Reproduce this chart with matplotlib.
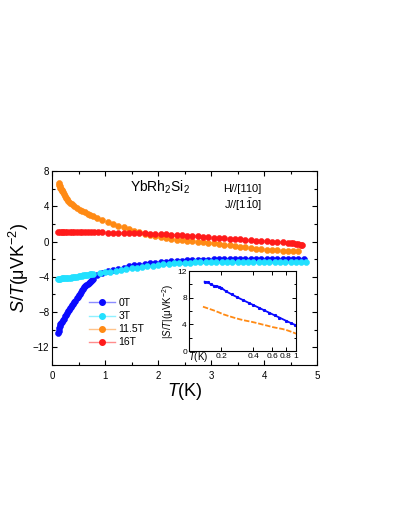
import matplotlib
matplotlib.use('Agg')
import matplotlib.pyplot as plt
from matplotlib.lines import Line2D
from matplotlib.ticker import MultipleLocator, FixedLocator, NullLocator, NullFormatter

plt.rcParams['font.family'] = ['Liberation Sans', 'DejaVu Sans']
plt.rcParams['mathtext.fontset'] = 'custom'
plt.rcParams['mathtext.rm'] = 'Liberation Sans'
plt.rcParams['mathtext.it'] = 'Liberation Sans:italic'

# ---- main panel data: S/T (uV/K^2) vs T (K) ----
t_0T = [0.12, 0.13, 0.14, 0.15, 0.16, 0.17, 0.18, 0.20, 0.22, 0.24, 0.26, 0.28, 0.30, 0.32,
        0.34, 0.36, 0.38, 0.40, 0.42, 0.44, 0.47, 0.49, 0.51, 0.53, 0.55, 0.57, 0.59, 0.61,
        0.63, 0.65, 0.67, 0.69, 0.71, 0.73, 0.75, 0.78,
        0.85, 0.95, 1.05, 1.15, 1.25, 1.35, 1.45, 1.55, 1.65, 1.75, 1.85, 1.95, 2.05, 2.15,
        2.25, 2.35, 2.45, 2.55, 2.65, 2.75, 2.85, 2.95, 3.05, 3.15, 3.25, 3.35, 3.45, 3.55,
        3.65, 3.75, 3.85, 3.95, 4.05, 4.15, 4.25, 4.35, 4.45, 4.55, 4.65, 4.75]
s_0T = [-10.4, -10.1, -9.8, -9.6, -9.4, -9.25, -9.1, -8.95, -8.75, -8.5, -8.3, -8.1, -7.9, -7.75,
        -7.55, -7.4, -7.2, -7.05, -6.85, -6.7, -6.45, -6.25, -6.1, -5.9, -5.7, -5.5, -5.35, -5.2,
        -5.05, -4.9, -4.8, -4.7, -4.6, -4.5, -4.4, -4.3,
        -3.75, -3.55, -3.38, -3.22, -3.08, -2.95, -2.8, -2.7, -2.62, -2.55, -2.48, -2.41, -2.35, -2.29,
        -2.24, -2.2, -2.16, -2.13, -2.1, -2.08, -2.06, -2.04, -2.02, -2.0, -1.99, -1.98, -1.97, -1.96,
        -1.95, -1.95, -1.95, -1.95, -1.95, -1.96, -1.96, -1.97, -1.97, -1.98, -1.99, -2.0]

t_3T = [0.12, 0.14, 0.16, 0.18, 0.20, 0.23, 0.26, 0.29, 0.32, 0.35, 0.38, 0.41, 0.44, 0.47,
        0.50, 0.53, 0.56, 0.59, 0.62, 0.65, 0.68, 0.71, 0.74, 0.77,
        0.9, 1.0, 1.1, 1.2, 1.3, 1.4, 1.5, 1.6, 1.7, 1.8, 1.9, 2.0, 2.1, 2.2, 2.3, 2.4, 2.5,
        2.6, 2.7, 2.8, 2.9, 3.0, 3.1, 3.2, 3.3, 3.4, 3.5, 3.6, 3.7, 3.8, 3.9, 4.0, 4.1, 4.2,
        4.3, 4.4, 4.5, 4.6, 4.7, 4.8]
s_3T = [-4.22, -4.21, -4.2, -4.19, -4.18, -4.16, -4.14, -4.12, -4.1, -4.08, -4.05, -4.02, -4.0, -3.97,
        -3.94, -3.91, -3.88, -3.85, -3.82, -3.79, -3.76, -3.73, -3.7, -3.67,
        -3.6, -3.5, -3.4, -3.3, -3.2, -3.12, -3.05, -2.97, -2.9, -2.83, -2.76, -2.68, -2.58, -2.53,
        -2.49, -2.46, -2.43, -2.4, -2.37, -2.35, -2.33, -2.32, -2.31, -2.3, -2.29, -2.28, -2.28,
        -2.27, -2.27, -2.27, -2.27, -2.27, -2.28, -2.28, -2.29, -2.3, -2.31, -2.32, -2.33, -2.35]

t_11T = [0.13, 0.14, 0.15, 0.16, 0.17, 0.18, 0.19, 0.20, 0.22, 0.24, 0.26, 0.28, 0.31, 0.34,
         0.38, 0.42, 0.47, 0.52, 0.57, 0.62, 0.67, 0.72, 0.78,
         0.85, 0.95, 1.05, 1.15, 1.25, 1.35, 1.45, 1.55, 1.65, 1.75, 1.85, 1.95, 2.05, 2.15,
         2.25, 2.35, 2.45, 2.55, 2.65, 2.75, 2.85, 2.95, 3.05, 3.15, 3.25, 3.35, 3.45, 3.55,
         3.65, 3.75, 3.85, 3.95, 4.05, 4.15, 4.25, 4.35, 4.45, 4.55, 4.65]
s_11T = [6.6, 6.4, 6.25, 6.1, 5.97, 5.85, 5.72, 5.6, 5.35, 5.15, 4.95, 4.8, 4.6, 4.42,
         4.2, 4.0, 3.8, 3.6, 3.45, 3.3, 3.15, 3.0, 2.86,
         2.7, 2.48, 2.22, 2.0, 1.8, 1.6, 1.4, 1.22, 1.05, 0.9, 0.75, 0.62, 0.5, 0.4,
         0.3, 0.22, 0.15, 0.08, 0.02, -0.03, -0.09, -0.15, -0.21, -0.28, -0.35, -0.42, -0.5, -0.58,
         -0.66, -0.74, -0.81, -0.87, -0.92, -0.96, -1.0, -1.03, -1.06, -1.09, -1.12]

t_16T = [0.12, 0.15, 0.18, 0.21, 0.25, 0.29, 0.33, 0.37, 0.42, 0.47, 0.52, 0.57, 0.62, 0.68,
         0.74, 0.80, 0.87, 0.95, 1.05, 1.15, 1.25, 1.35, 1.45, 1.55, 1.65, 1.75, 1.85, 1.95,
         2.05, 2.15, 2.25, 2.35, 2.45, 2.55, 2.65, 2.75, 2.85, 2.95, 3.05, 3.15, 3.25, 3.35,
         3.45, 3.55, 3.65, 3.75, 3.85, 3.95, 4.05, 4.15, 4.25, 4.35, 4.45, 4.5, 4.55, 4.6,
         4.65, 4.7, 4.72]
s_16T = [1.12, 1.12, 1.11, 1.11, 1.1, 1.1, 1.09, 1.09, 1.08, 1.08, 1.07, 1.07, 1.06, 1.06,
         1.05, 1.05, 1.04, 1.03, 1.02, 1.01, 1.0, 0.99, 0.98, 0.96, 0.94, 0.92, 0.89, 0.87,
         0.84, 0.8, 0.77, 0.73, 0.69, 0.65, 0.61, 0.57, 0.53, 0.49, 0.45, 0.41, 0.37, 0.33,
         0.29, 0.25, 0.2, 0.16, 0.11, 0.07, 0.03, -0.02, -0.06, -0.11, -0.16, -0.19, -0.22, -0.27,
         -0.32, -0.37, -0.41]

# ---- inset data: |S/T| vs T on log axis ----
tin_0T = [0.14, 0.15, 0.16, 0.17, 0.18, 0.19, 0.20, 0.22, 0.25, 0.28, 0.32, 0.36, 0.40,
          0.45, 0.50, 0.56, 0.63, 0.70, 0.80, 0.90, 0.97, 1.0]
sin_0T = [10.4, 10.3, 10.0, 9.8, 9.75, 9.65, 9.5, 9.0, 8.5, 8.1, 7.64, 7.24, 6.89,
          6.5, 6.14, 5.76, 5.36, 5.02, 4.57, 4.18, 3.95, 3.85]
tin_11T = [0.135, 0.15, 0.17, 0.19, 0.21, 0.24, 0.27, 0.30, 0.34, 0.38, 0.43, 0.48, 0.54,
           0.60, 0.67, 0.75, 0.83, 0.90, 0.97, 1.0]
sin_11T = [6.65, 6.4, 6.1, 5.8, 5.5, 5.2, 4.95, 4.75, 4.55, 4.4, 4.2, 4.0, 3.8,
           3.6, 3.45, 3.3, 3.1, 2.9, 2.7, 2.6]

labels = ['0T', '3T', '11.5T', '16T']
colors = ['#0a0aff', '#22e0ff', '#ff8a14', '#ff1a1a']
light = ['#8c8cff', '#90f0ff', '#ffc38a', '#ff8c8c']

fig = plt.figure(figsize=(3.98, 5.15), dpi=100)
ax = fig.add_axes([0.1307, 0.2913, 0.6658, 0.3767])

series = [(t_0T, s_0T), (t_3T, s_3T), (t_11T, s_11T), (t_16T, s_16T)]
for (t, s), c in zip(series, colors):
    ax.plot(t, s, 'o', color=c, ms=4.3, mew=0.4, mec=c, ls='none')

ax.set_xlim(0, 5)
ax.set_ylim(-14, 8)
ax.xaxis.set_major_locator(MultipleLocator(1))
ax.xaxis.set_minor_locator(MultipleLocator(0.5))
ax.yaxis.set_major_locator(FixedLocator([-12, -8, -4, 0, 4, 8]))
ax.yaxis.set_minor_locator(MultipleLocator(2))
ax.tick_params(which='both', direction='in', top=True, right=True, labelsize=7, width=0.8)
ax.tick_params(which='major', length=3.5)
ax.tick_params(which='minor', length=2)
ax.tick_params(axis='x', pad=4)
ax.tick_params(axis='y', pad=2)
for sp in ax.spines.values():
    sp.set_linewidth(0.8)
ax.set_xlabel('$T$(K)', fontsize=13, labelpad=0)
ax.set_ylabel('$S/T$(μVK$^{-2}$)', fontsize=13, labelpad=1)

ax.text(0.295, 0.915, 'YbRh$_2$Si$_2$', transform=ax.transAxes, fontsize=10, va='center', ha='left')
ax.text(0.79, 0.908, 'H//[110]', transform=ax.transAxes, fontsize=8, va='center', ha='right')
ax.text(0.79, 0.826, r'J//[1$\bar{1}$0]', transform=ax.transAxes, fontsize=8, va='center', ha='right')

handles = [Line2D([0], [0], color=lc, lw=1.0, marker='o', ms=4, mfc=c, mec=c)
           for c, lc in zip(colors, light)]
ax.legend(handles, labels, loc='upper left', bbox_to_anchor=(0.14, 0.345), frameon=False,
          fontsize=7.5, handlelength=2.5, handletextpad=0.3, labelspacing=0.3,
          borderpad=0, borderaxespad=0)

# ---- inset ----
axi = fig.add_axes([0.4749, 0.3184, 0.2688, 0.1553])
axi.plot(tin_0T, sin_0T, '-', color=colors[0], lw=1.3, marker='s', ms=1.2)
axi.plot(tin_11T, sin_11T, '--', color=colors[2], lw=1.3, dashes=(3, 1))
axi.set_xscale('log')
axi.set_xlim(0.1, 1.0)
axi.set_ylim(0, 12)
axi.xaxis.set_major_locator(FixedLocator([0.2, 0.4, 0.6, 0.8, 1.0]))
axi.xaxis.set_minor_locator(NullLocator())
axi.xaxis.set_minor_formatter(NullFormatter())
axi.set_xticklabels(['0.2', '0.4', '0.6', '0.8', '1'])
axi.yaxis.set_major_locator(FixedLocator([0, 4, 8, 12]))
axi.yaxis.set_minor_locator(MultipleLocator(2))
axi.tick_params(which='both', direction='in', top=True, right=True, labelsize=6, width=0.7, pad=1.5)
axi.tick_params(which='major', length=3)
axi.tick_params(which='minor', length=1.8)
for sp in axi.spines.values():
    sp.set_linewidth(0.8)
axi.set_ylabel('|$S/T$|(μVK$^{-2}$)', fontsize=7, labelpad=1)
axi.text(-0.01, -0.075, '$T$(K)', transform=axi.transAxes, fontsize=7, ha='left', va='center')

fig.savefig('out.png', dpi=100)
